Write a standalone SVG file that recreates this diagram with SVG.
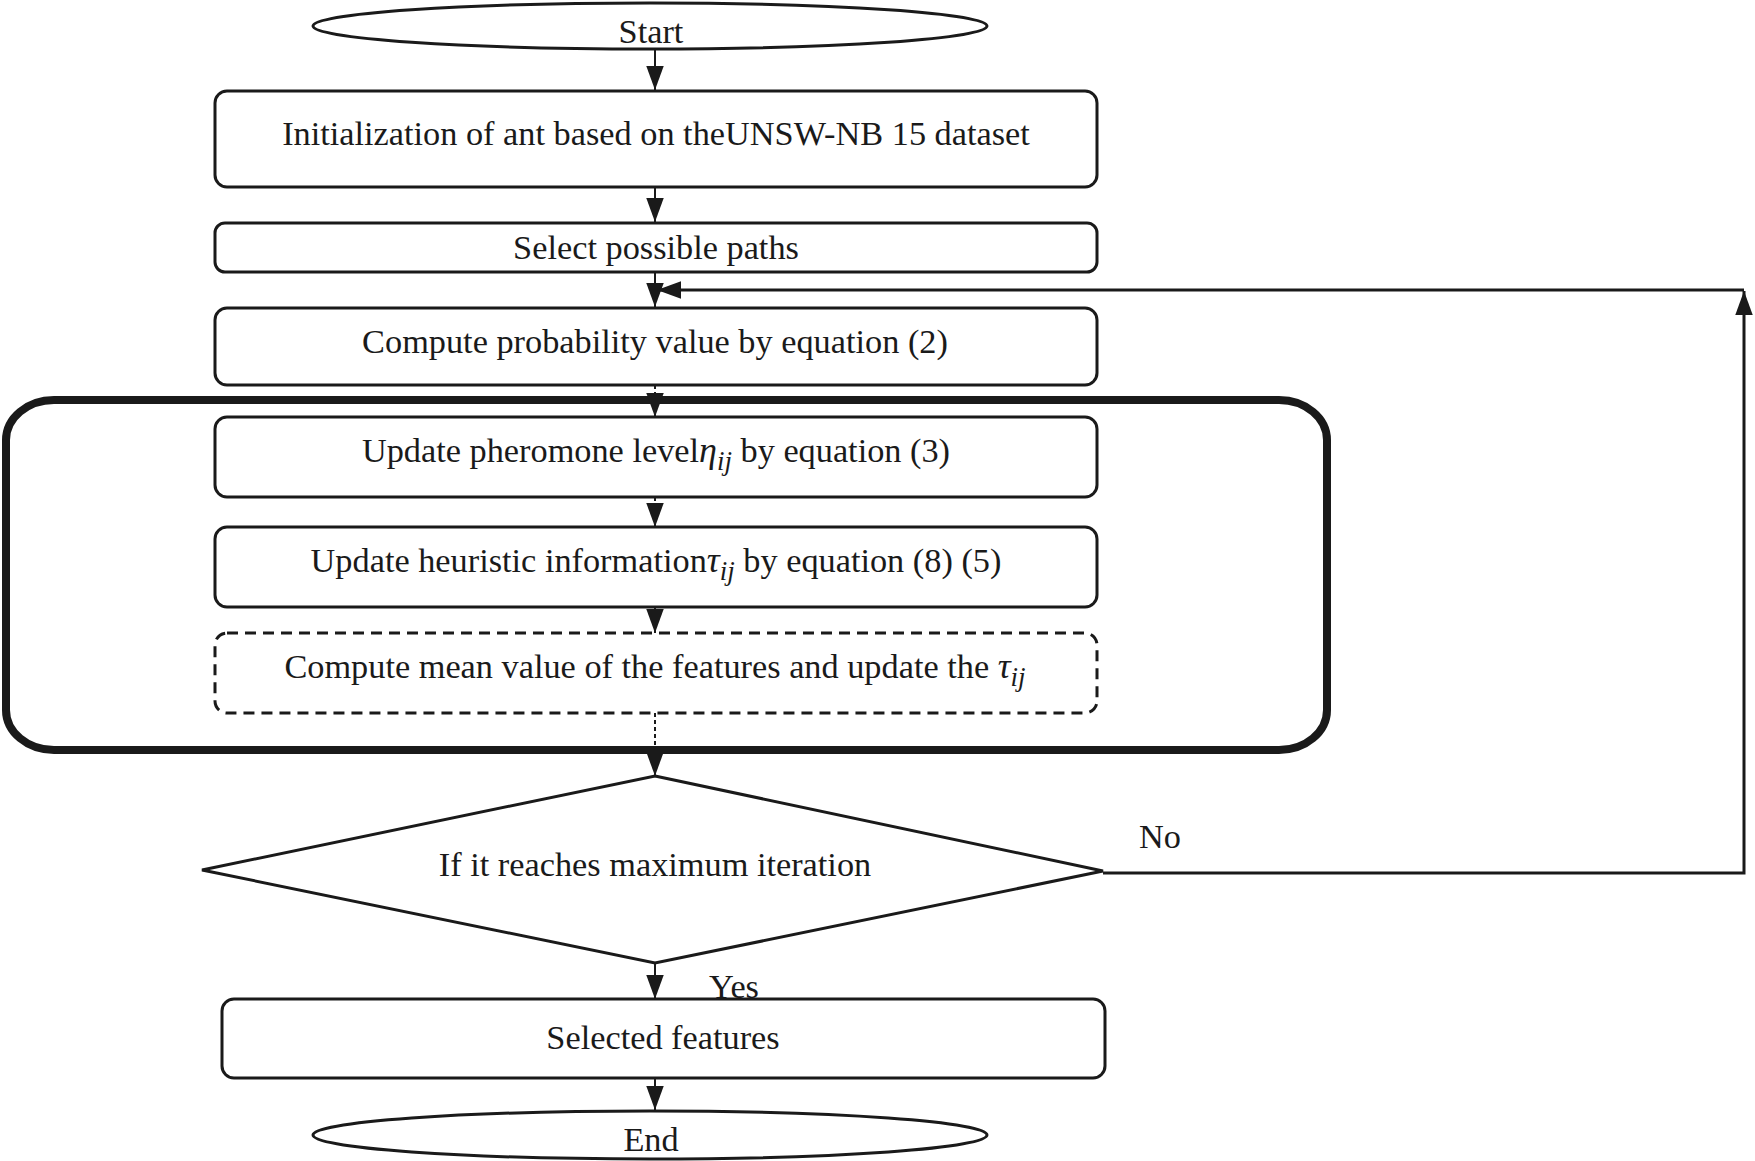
<svg xmlns="http://www.w3.org/2000/svg" width="1755" height="1161" viewBox="0 0 1755 1161">
<style>
text{font-family:"Liberation Serif","Times New Roman",serif;font-size:34.3px;fill:#1a1a1a;text-anchor:middle}
.box{fill:#fff;stroke:#1a1a1a;stroke-width:3}
.dash{stroke-dasharray:11 7}
.outer{fill:none;stroke:#1a1a1a;stroke-width:8}
.c{fill:none;stroke:#1a1a1a;stroke-width:2}
.fb{fill:none;stroke:#1a1a1a;stroke-width:3}
.dot{stroke-dasharray:4 3}
.m{font-style:italic;font-size:36px}
.sub{font-style:italic;font-size:27px}
</style>
<defs>
<marker id="ah" markerUnits="userSpaceOnUse" markerWidth="24" markerHeight="18" viewBox="0 0 22 16" refX="22" refY="8" orient="auto">
<path d="M0,0 L22,8 L0,16 z" fill="#1a1a1a"/>
</marker>
</defs>
<g id="outer-loop"><rect class="outer" x="6" y="400" width="1321" height="350" rx="48" ry="40"/></g>
<g id="start"><ellipse class="box" cx="650" cy="26" rx="337" ry="23"/><text x="651" y="43">Start</text></g>
<g id="init"><rect class="box" x="215" y="91" width="882" height="96" rx="12"/><text x="656" y="145">Initialization of ant based on theUNSW-NB 15 dataset</text></g>
<g id="select"><rect class="box" x="215" y="223" width="882" height="49" rx="10"/><text x="656" y="259">Select possible paths</text></g>
<g id="prob"><rect class="box" x="215" y="308" width="882" height="77" rx="12"/><text x="655" y="353">Compute probability value by equation (2)</text></g>
<g id="pheromone"><rect class="box" x="215" y="417" width="882" height="80" rx="12"/><text x="656" y="462">Update pheromone level<tspan class="m">η</tspan><tspan class="sub" dy="8">ij</tspan><tspan dy="-8"> by equation (3)</tspan></text></g>
<g id="heuristic"><rect class="box" x="215" y="527" width="882" height="80" rx="12"/><text x="656" y="572">Update heuristic information<tspan class="m">τ</tspan><tspan class="sub" dy="8">ij</tspan><tspan dy="-8"> by equation (8) (5)</tspan></text></g>
<g id="mean"><rect class="box dash" x="215" y="633" width="882" height="80" rx="12"/><text x="655" y="678">Compute mean value of the features and update the <tspan class="m">τ</tspan><tspan class="sub" dy="8">ij</tspan></text></g>
<g id="decision"><polygon class="box" points="655,776 1103,871 655,963 202,870"/><text x="655" y="876">If it reaches maximum iteration</text></g>
<g id="selected"><rect class="box" x="222" y="999" width="883" height="79" rx="12"/><text x="663" y="1049">Selected features</text></g>
<g id="end"><ellipse class="box" cx="650" cy="1135" rx="337" ry="24"/><text x="651" y="1151">End</text></g>
<g id="connectors">
<path class="c" d="M655,50 V90" marker-end="url(#ah)"/>
<path class="c" d="M655,187 V222" marker-end="url(#ah)"/>
<path class="c" d="M655,272 V307" marker-end="url(#ah)"/>
<path class="fb" d="M1103,873 H1744 V291" marker-end="url(#ah)"/>
<path class="fb" d="M1744,290 H657" marker-end="url(#ah)"/>
<path class="c dot" d="M655,385 V405"/><path class="c" d="M655,405 V417" marker-end="url(#ah)"/>
<path class="c dot" d="M655,497 V506"/><path class="c" d="M655,506 V527" marker-end="url(#ah)"/>
<path class="c dot" d="M655,607 V612"/><path class="c" d="M655,612 V633" marker-end="url(#ah)"/>
<path class="c dot" d="M655,713 V750"/><path class="c" d="M655,754 V776" marker-end="url(#ah)"/>
<path class="c" d="M655,964 V999" marker-end="url(#ah)"/>
<path class="c" d="M655,1078 V1110" marker-end="url(#ah)"/>
<text x="1160" y="848">No</text>
<text x="734" y="998">Yes</text>
</g>
</svg>
